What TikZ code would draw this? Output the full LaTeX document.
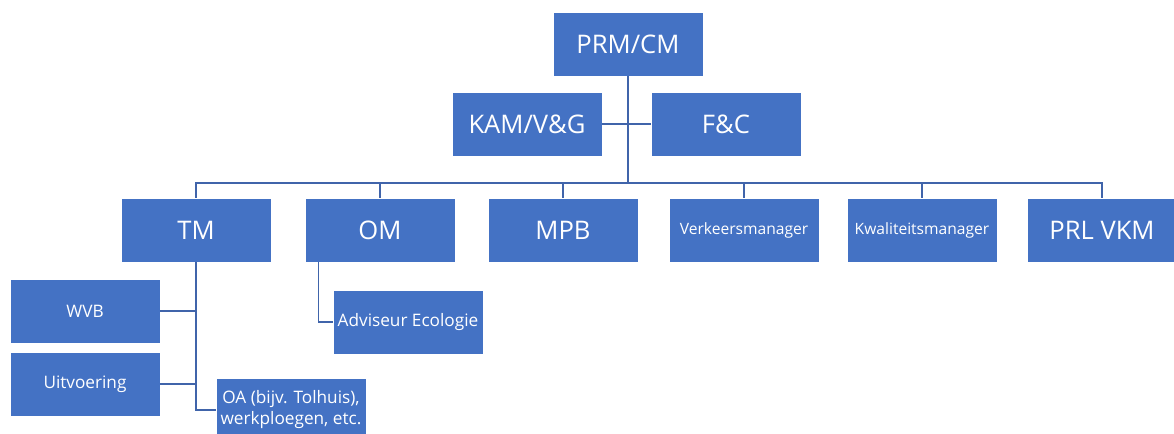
\documentclass[tikz,border=0pt]{standalone}
\usepackage{fontspec}
\setmainfont{Open Sans}
\usepackage{tikz}
\definecolor{boxblue}{RGB}{68,114,196}
\definecolor{lineblue}{RGB}{64,100,170}
\tikzset{unit/.style = {draw=white, line width=0.4pt, fill=boxblue, text=white, minimum width=75pt, minimum height=32pt, inner sep=1pt, align=center, font=\fontsize{12.8}{15}\selectfont}}
\tikzset{small/.style = {font=\fontsize{7.8}{10}\selectfont}}
\tikzset{medium/.style = {font=\fontsize{8.6}{10.5}\selectfont}}
\tikzset{link/.style = {draw=lineblue, line width=0.75pt}}

\begin{document}
\begin{tikzpicture}[x=0.5pt, y=-0.5pt]
    \useasboundingbox (0, 0) rectangle (1174, 434);

    \node [unit] (prm) at (628, 44) {PRM/CM};
    \node [unit] (kam) at (527, 124) {KAM/V\&G};
    \node [unit] (fc) at (726, 124) {F\&C};

    \node [unit] (tm) at (196, 230) {TM};
    \node [unit] (om) at (380, 230) {OM};
    \node [unit] (mpb) at (563, 230) {MPB};
    \node [unit, small] (vm) at (744, 230) {Verkeersmanager};
    \node [unit, small] (km) at (922, 230) {Kwaliteitsmanager};
    \node [unit] (prl) at (1102, 230) {PRL VKM};

    \node [unit, medium] (wvb) at (85, 311) {WVB};
    \node [unit, medium] (uitv) at (85, 384) {Uitvoering};
    \node [unit, medium] (oa) at (291, 410) {OA (bijv. Tolhuis),\\werkploegen, etc.};
    \node [unit, medium] (adv) at (408, 322) {Adviseur Ecologie};

    \coordinate (bus) at (628, 183);
    \draw [link] (prm.south) -- (bus);
    \draw [link] (kam.east) -- (fc.west);
    \draw [link] (tm.north) |- (prl.north |- bus) -- (prl.north);
    \foreach \n in {om, mpb, vm, km}
        \draw [link] (\n.north) -- (\n.north |- bus);

    \draw [link] (tm.south) |- (oa.west);
    \draw [link] (wvb.east) -- (wvb.east -| tm.south);
    \draw [link] (uitv.east) -- (uitv.east -| tm.south);
    \draw [link] ([xshift=7pt]om.south west) |- (adv.west);
\end{tikzpicture}
\end{document}
